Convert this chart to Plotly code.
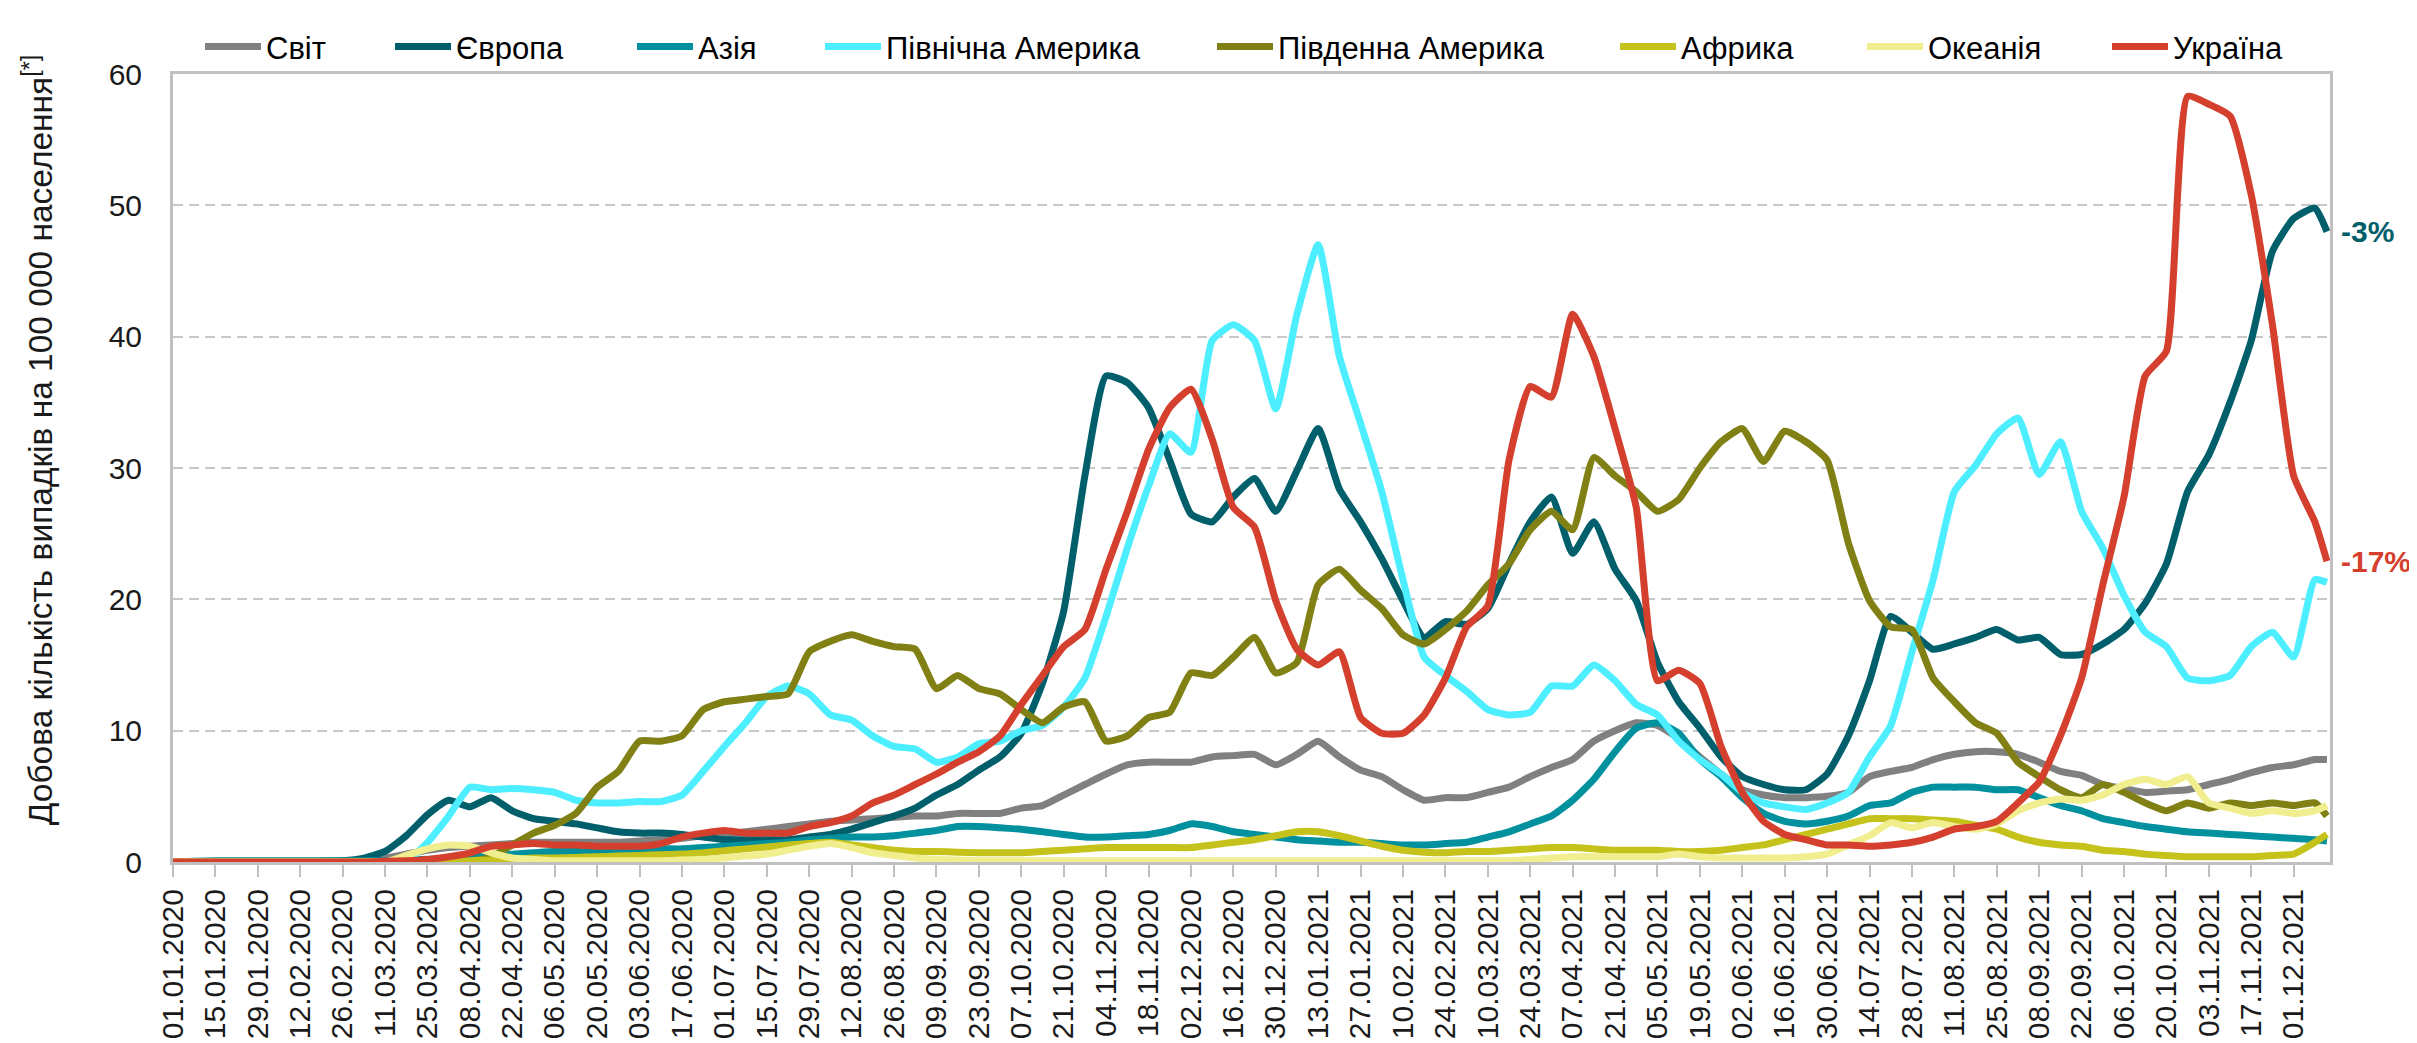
import pandas as pd
import plotly.graph_objects as go

# weekly sample dates (from 01.01.2020) plus the last day shown
dates = list(pd.date_range("2020-01-01", periods=102, freq="7D")) + [pd.Timestamp("2021-12-12")]

world = [0, 0, 0, 0, 0, 0, 0, 0, 0.05, 0.1, 0.3, 0.6, 0.9, 1.1, 1.2, 1.3, 1.4, 1.5,
         1.5, 1.5, 1.5, 1.5, 1.6, 1.7, 1.8, 2.0, 2.1, 2.3, 2.5, 2.7, 2.9, 3.1, 3.2, 3.3, 3.4, 3.5,
         3.5, 3.7, 3.7, 3.7, 4.1, 4.3, 5.1, 5.9, 6.7, 7.4, 7.6, 7.6, 7.6, 8.0, 8.1, 8.2, 7.4, 8.2,
         9.2, 8.0, 7.0, 6.5, 5.5, 4.7, 4.9, 4.9, 5.3, 5.7, 6.5, 7.2, 7.8, 9.2, 10.0, 10.6, 10.4, 9.4,
         8.0, 6.7, 5.5, 5.1, 4.9, 4.9, 5.0, 5.3, 6.5, 6.9, 7.2, 7.8, 8.2, 8.4, 8.4, 8.2, 7.6, 6.9,
         6.6, 5.9, 5.6, 5.3, 5.4, 5.5, 5.9, 6.3, 6.8, 7.2, 7.4, 7.8, 7.8]

europe = [0, 0, 0, 0, 0, 0, 0, 0.05, 0.1, 0.3, 0.8, 2.0, 3.6, 4.7, 4.2, 4.9, 3.9, 3.3,
          3.1, 2.9, 2.6, 2.3, 2.2, 2.2, 2.1, 1.9, 1.7, 1.7, 1.7, 1.7, 1.9, 2.1, 2.5, 3.0, 3.5, 4.1,
          5.1, 5.9, 7.0, 8.0, 9.8, 13.6, 19.1, 29.4, 37.0, 36.5, 34.6, 30.6, 26.5, 25.9, 27.8, 29.2, 26.7, 29.8,
          33.0, 28.4, 25.9, 23.1, 19.9, 17.1, 18.3, 18.1, 19.3, 22.7, 25.9, 27.8, 23.5, 25.9, 22.3, 19.9, 15.2, 12.2,
          10.2, 8.0, 6.5, 5.9, 5.5, 5.5, 6.7, 9.6, 13.8, 18.7, 17.5, 16.2, 16.6, 17.1, 17.7, 16.9, 17.1, 15.8,
          15.8, 16.6, 17.7, 19.7, 22.7, 28.2, 31.0, 35.0, 39.7, 46.5, 49.0, 49.8, 48.0]

asia = [0, 0.05, 0.1, 0.1, 0.1, 0.1, 0.1, 0.1, 0.1, 0.1, 0.1, 0.15, 0.2, 0.3, 0.4, 0.5, 0.6, 0.7,
        0.8, 0.8, 0.8, 0.9, 0.9, 1.0, 1.0, 1.1, 1.2, 1.3, 1.4, 1.5, 1.7, 1.8, 1.9, 1.9, 2.0, 2.2,
        2.4, 2.7, 2.7, 2.6, 2.5, 2.3, 2.1, 1.9, 1.9, 2.0, 2.1, 2.4, 2.9, 2.7, 2.3, 2.1, 1.9, 1.7,
        1.6, 1.5, 1.5, 1.4, 1.3, 1.3, 1.4, 1.5, 1.9, 2.3, 2.9, 3.5, 4.7, 6.3, 8.4, 10.2, 10.6, 9.8,
        7.8, 6.5, 4.9, 3.7, 3.1, 2.9, 3.1, 3.5, 4.3, 4.5, 5.3, 5.7, 5.7, 5.7, 5.5, 5.5, 4.9, 4.3,
        3.9, 3.3, 3.0, 2.7, 2.5, 2.3, 2.2, 2.1, 2.0, 1.9, 1.8, 1.7, 1.6]

north_america = [0, 0, 0, 0, 0, 0, 0, 0, 0, 0, 0, 0.05, 1.5, 3.5, 5.7, 5.5, 5.6, 5.5,
                 5.3, 4.7, 4.5, 4.5, 4.6, 4.6, 5.1, 6.9, 8.8, 10.6, 12.6, 13.4, 12.8, 11.2, 10.8, 9.6, 8.8, 8.6,
                 7.6, 8.0, 9.0, 9.2, 10.0, 10.4, 11.8, 14.0, 18.7, 23.9, 28.6, 32.6, 31.2, 39.7, 40.9, 39.7, 34.5, 41.7,
                 47.0, 38.5, 33.4, 28.2, 21.5, 15.6, 14.2, 13.0, 11.6, 11.2, 11.4, 13.4, 13.4, 15.0, 13.8, 12.0, 11.2, 9.2,
                 7.8, 6.7, 5.3, 4.5, 4.2, 4.0, 4.5, 5.3, 8.0, 10.4, 16.0, 21.5, 28.2, 30.2, 32.6, 33.8, 29.5, 32.0,
                 26.7, 23.9, 20.3, 17.5, 16.4, 14.0, 13.8, 14.2, 16.4, 17.5, 15.6, 21.5, 21.3]

south_america = [0, 0, 0, 0, 0, 0, 0, 0, 0, 0, 0, 0, 0, 0, 0, 0.4, 1.3, 2.2,
                 2.8, 3.7, 5.7, 6.9, 9.2, 9.2, 9.6, 11.6, 12.2, 12.4, 12.6, 12.8, 16.0, 16.8, 17.3, 16.8, 16.4, 16.2,
                 13.2, 14.2, 13.2, 12.8, 11.6, 10.6, 11.8, 12.2, 9.2, 9.6, 11.0, 11.4, 14.4, 14.2, 15.6, 17.1, 14.4, 15.2,
                 21.1, 22.3, 20.7, 19.3, 17.3, 16.6, 17.7, 19.1, 21.1, 22.7, 25.3, 26.7, 25.3, 30.8, 29.4, 28.2, 26.7, 27.6,
                 30.0, 32.0, 33.0, 30.5, 32.8, 32.0, 30.6, 24.3, 19.9, 17.9, 17.7, 14.0, 12.2, 10.6, 9.8, 7.6, 6.5, 5.5,
                 4.9, 5.9, 5.3, 4.5, 3.9, 4.5, 4.1, 4.5, 4.3, 4.5, 4.3, 4.5, 3.5]

africa = [0, 0, 0, 0, 0, 0, 0, 0, 0, 0, 0, 0, 0, 0.05, 0.1, 0.15, 0.2, 0.3,
          0.3, 0.35, 0.4, 0.45, 0.5, 0.55, 0.6, 0.7, 0.85, 1.0, 1.15, 1.3, 1.4, 1.5, 1.3, 1.1, 0.9, 0.8,
          0.8, 0.75, 0.7, 0.7, 0.7, 0.8, 0.9, 1.0, 1.1, 1.1, 1.1, 1.1, 1.1, 1.3, 1.5, 1.7, 2.0, 2.3,
          2.3, 2.0, 1.6, 1.2, 0.9, 0.75, 0.7, 0.8, 0.8, 0.9, 1.0, 1.1, 1.1, 1.0, 0.9, 0.9, 0.9, 0.8,
          0.8, 0.9, 1.1, 1.3, 1.7, 2.1, 2.5, 2.9, 3.3, 3.3, 3.3, 3.2, 3.1, 2.8, 2.5, 1.9, 1.5, 1.3,
          1.2, 0.9, 0.8, 0.6, 0.5, 0.4, 0.4, 0.4, 0.4, 0.5, 0.6, 1.5, 2.1]

oceania = [0, 0, 0, 0, 0, 0, 0, 0, 0, 0, 0, 0.5, 1.0, 1.3, 1.2, 0.7, 0.3, 0.2,
           0.1, 0.1, 0.1, 0.1, 0.1, 0.1, 0.15, 0.2, 0.3, 0.45, 0.6, 0.9, 1.2, 1.4, 1.1, 0.7, 0.5, 0.3,
           0.2, 0.15, 0.1, 0.1, 0.1, 0.1, 0.1, 0.1, 0.1, 0.1, 0.1, 0.1, 0.1, 0.1, 0.1, 0.1, 0.1, 0.1,
           0.1, 0.1, 0.1, 0.1, 0.1, 0.1, 0.1, 0.1, 0.1, 0.1, 0.2, 0.3, 0.4, 0.4, 0.4, 0.4, 0.4, 0.6,
           0.4, 0.3, 0.3, 0.3, 0.3, 0.4, 0.6, 1.3, 2.0, 3.0, 2.6, 3.0, 2.7, 2.5, 2.9, 3.9, 4.5, 4.8,
           4.7, 5.1, 5.9, 6.3, 5.9, 6.5, 4.5, 4.1, 3.7, 3.9, 3.7, 3.9, 4.3]

ukraine = [0, 0, 0, 0, 0, 0, 0, 0, 0, 0, 0.05, 0.1, 0.2, 0.4, 0.7, 1.2, 1.3, 1.4,
           1.3, 1.3, 1.2, 1.2, 1.2, 1.4, 1.9, 2.2, 2.4, 2.2, 2.2, 2.2, 2.7, 3.0, 3.5, 4.5, 5.1, 5.9,
           6.7, 7.6, 8.4, 9.6, 12.0, 14.2, 16.4, 17.7, 22.3, 26.7, 31.4, 34.6, 36.0, 32.2, 27.0, 25.5, 19.9, 16.2,
           15.0, 16.0, 11.0, 9.8, 9.8, 11.2, 14.0, 17.9, 19.5, 30.6, 36.2, 35.4, 41.7, 38.5, 33.0, 27.0, 13.8, 14.6,
           13.6, 8.8, 5.3, 3.1, 2.1, 1.7, 1.3, 1.3, 1.2, 1.3, 1.5, 1.9, 2.5, 2.7, 3.1, 4.5, 6.1, 9.6,
           14.0, 21.1, 27.8, 37.0, 38.9, 58.3, 57.7, 56.8, 50.8, 40.9, 29.4, 25.9, 22.9]

names = ["Світ", "Європа", "Азія", "Північна Америка", "Південна Америка", "Африка", "Океанія", "Україна"]
values = [world, europe, asia, north_america, south_america, africa, oceania, ukraine]
colors = ["#808080", "#005f6b", "#00909e", "#4deeff", "#808014", "#c5c21c", "#f0ee8e", "#d5402e"]
legend_text_px = [260, 450, 692, 880, 1272, 1675, 1922, 2167]

change_labels = {"Європа": "-3%", "Україна": "-17%"}
y_title = "Добова кількість випадків на 100 000 населення<sup>[*]</sup>"

FONT = "Liberation Sans, Arial, sans-serif"
L, R, T, B = 165, 95, 51, 181
W, H = 2417, 1043
PW = W - L - R
PH = H - T - B
ITEMW = 56

fig = go.Figure()
for i, (nm, vals, col) in enumerate(zip(names, values, colors)):
    lg = "legend" if i == 0 else f"legend{i + 1}"
    fig.add_trace(go.Scatter(x=dates, y=vals, mode="lines", name=nm,
                             line=dict(color=col, width=7, shape="spline", smoothing=0.5),
                             legend=lg, hoverinfo="skip"))

layout_legends = {}
for i, px in enumerate(legend_text_px):
    lg = "legend" if i == 0 else f"legend{i + 1}"
    layout_legends[lg] = dict(x=(px - ITEMW - 12 - L) / PW, y=1 + (T - 23) / PH, xanchor="left", yanchor="middle",
                              orientation="h", bgcolor="rgba(0,0,0,0)", itemwidth=ITEMW,
                              font=dict(family=FONT, size=31, color="#000000"))

annotations = []
for nm, vals, col in zip(names, values, colors):
    if nm in change_labels:
        annotations.append(dict(x=dates[-1], y=vals[-1], xref="x", yref="y", text=change_labels[nm],
                                showarrow=False, xanchor="left", yanchor="middle", xshift=12,
                                font=dict(family=FONT, size=30, color=col, weight="bold")))
annotations.append(dict(x=(30 - L) / PW, y=(H - B - 428) / PH, xref="paper", yref="paper",
                        text=y_title, textangle=-90, showarrow=False,
                        xanchor="center", yanchor="middle",
                        font=dict(family=FONT, size=33.5, color="#1a1a1a")))

fig.update_layout(
    width=W, height=H, autosize=False,
    margin=dict(l=L, r=R, t=T, b=B),
    paper_bgcolor="white", plot_bgcolor="white",
    font=dict(family=FONT, size=30, color="#1a1a1a"),
    showlegend=True,
    annotations=annotations,
    xaxis=dict(type="date", range=["2020-01-01", "2021-12-13"], tick0="2020-01-01",
               dtick=14 * 86400000, tickformat="%d.%m.%Y", tickangle=-90,
               ticks="outside", ticklen=12, tickwidth=2, tickcolor="#c0c0c0",
               showline=True, linecolor="#c0c0c0", linewidth=3, mirror=True,
               showgrid=False, zeroline=False,
               tickfont=dict(family=FONT, size=30, color="#1a1a1a")),
    xaxis2=dict(type="date", range=["2020-01-01", "2021-12-13"], tick0="2020-01-01",
                dtick=14 * 86400000, overlaying="x", anchor="y", side="bottom",
                ticks="inside", ticklen=9, tickwidth=2, tickcolor="#c0c0c0",
                showticklabels=False, showline=False, showgrid=False, zeroline=False),
    yaxis=dict(range=[0, 60], dtick=10, tick0=0, ticks="", showgrid=True,
               gridcolor="#c8c8c8", gridwidth=1.5, griddash="10px,6px",
               showline=True, linecolor="#c0c0c0", linewidth=3, mirror=True, zeroline=False,
               ticklabelstandoff=22,
               tickfont=dict(family=FONT, size=30, color="#1a1a1a")),
    **layout_legends,
)

fig.write_html("out.html")
